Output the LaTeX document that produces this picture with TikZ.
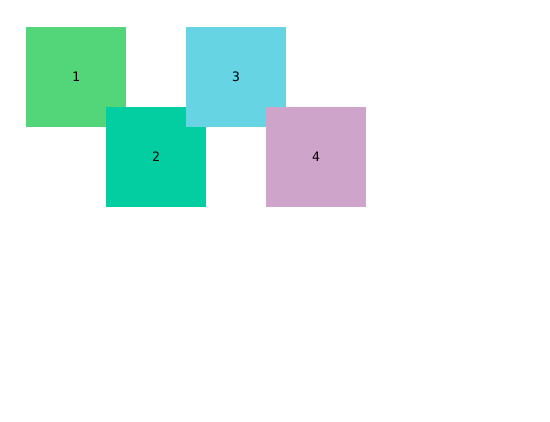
\documentclass[tikz,border=0pt]{standalone}
\usepackage{fontspec}
\setmonofont{DejaVu Sans Mono}
\definecolor{cA}{HTML}{53D579}
\definecolor{cB}{HTML}{02CEA2}
\definecolor{cC}{HTML}{66D4E3}
\definecolor{cD}{HTML}{CFA4CA}
\tikzset{sq/.style={minimum size=100pt, inner sep=0pt, draw=none, font=\ttfamily\fontsize{13}{15}\selectfont, text=black}}
\begin{document}
\begin{tikzpicture}[x=1pt,y=-1pt]
\useasboundingbox (0,0) rectangle (550,422);
\fill[white] (0,0) rectangle (550,422);
\node[sq, fill=cA] (n1) at (76,77) {1};
\node[sq, fill=cB] (n2) at (156,157) {2};
\node[sq, fill=cC] (n3) at (236,77) {3};
\node[sq, fill=cD] (n4) at (316,157) {4};
\end{tikzpicture}
\end{document}
